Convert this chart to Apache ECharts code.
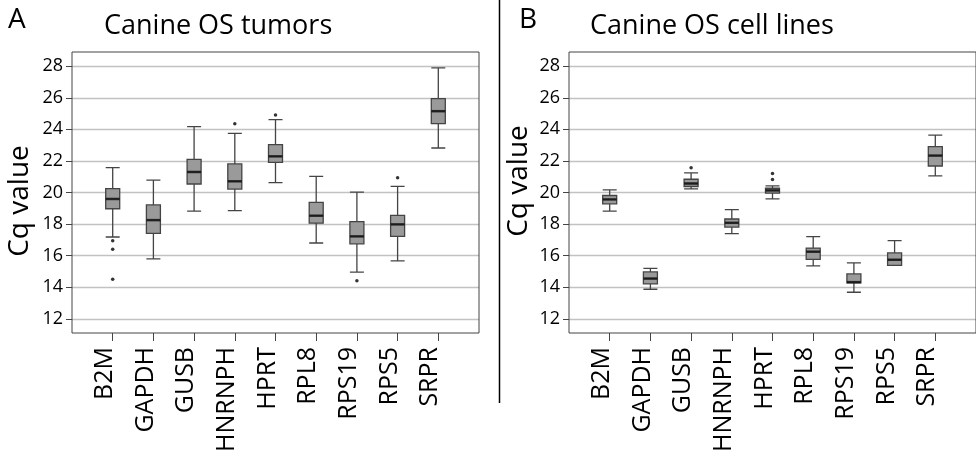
<!DOCTYPE html>
<html><head><meta charset="utf-8">
<script src="https://cdn.jsdelivr.net/npm/echarts@6/dist/echarts.min.js"></script>
<style>html,body{margin:0;padding:0;background:#fff}#c{width:976px;height:461px}</style>
</head><body><div id="c"></div>
<script>
// ---- data ----
const categories = ['B2M','GAPDH','GUSB','HNRNPH','HPRT','RPL8','RPS19','RPS5','SRPR'];
const yTicks = [12,14,16,18,20,22,24,26,28];
// [min, Q1, median, Q3, max]
const tumorBoxes = [
  [17.18, 18.97, 19.59, 20.24, 21.57],
  [15.80, 17.41, 18.25, 19.21, 20.79],
  [18.82, 20.54, 21.30, 22.10, 24.17],
  [18.85, 20.22, 20.71, 21.81, 23.75],
  [20.62, 21.91, 22.29, 23.03, 24.62],
  [16.80, 18.06, 18.53, 19.37, 21.02],
  [14.96, 16.75, 17.22, 18.15, 20.03],
  [15.67, 17.22, 17.98, 18.55, 20.39],
  [22.82, 24.36, 25.15, 25.95, 27.89]
];
const tumorOutliers = [
  ['B2M', 16.94], ['B2M', 16.41], ['B2M', 14.51],
  ['HNRNPH', 24.36], ['HPRT', 24.91], ['RPS19', 14.41], ['RPS5', 20.94]
];
const cellBoxes = [
  [18.82, 19.28, 19.56, 19.81, 20.17],
  [13.87, 14.21, 14.55, 14.97, 15.20],
  [20.23, 20.38, 20.57, 20.84, 21.24],
  [17.39, 17.81, 18.08, 18.32, 18.91],
  [19.60, 19.96, 20.13, 20.27, 20.42],
  [15.35, 15.77, 16.25, 16.48, 17.20],
  [13.68, 14.27, 14.32, 14.84, 15.54],
  [15.39, 15.39, 15.74, 16.17, 16.95],
  [21.05, 21.68, 22.34, 22.91, 23.64]
];
const cellOutliers = [
  ['GUSB', 21.56], ['HPRT', 20.82], ['HPRT', 21.20]
];

// ---- build ----
const FONT = '"Open Sans", sans-serif';
const padded = [''].concat(categories, ['']);
const boxData = boxes => boxes.map((b, i) => [i + 1].concat(b));
const medianData = boxes => boxes.map((b, i) => [i + 1, b[2]]);
const outlierData = list => list.map(o => [categories.indexOf(o[0]) + 1, o[1]]);

function xAxis(gi) {
  return {
    type: 'category', gridIndex: gi, data: padded, boundaryGap: false,
    axisLine: {show: false},
    axisTick: {show: true, length: 8, interval: (i, v) => v !== '', lineStyle: {color: '#444', width: 1}},
    axisLabel: {rotate: 90, interval: 0, margin: 14, fontFamily: FONT, fontSize: 25, color: '#000',
                verticalAlign: 'bottom', lineHeight: 16},
    splitLine: {show: false}
  };
}
function yAxis(gi) {
  return {
    type: 'value', gridIndex: gi, min: 11.1, max: 28.9,
    axisLine: {show: false},
    axisTick: {show: true, length: 6, customValues: yTicks, lineStyle: {color: '#444'}},
    axisLabel: {customValues: yTicks, fontFamily: FONT, fontSize: 18, color: '#000', margin: 9},
    splitLine: {show: false}
  };
}
function seriesFor(gi, boxes, outliers) {
  return [
    {
      type: 'boxplot', xAxisIndex: gi, yAxisIndex: gi,
      data: boxData(boxes), encode: {x: 0, y: [1, 2, 3, 4, 5]},
      boxWidth: [14, 14],
      itemStyle: {color: '#9a9a9a', borderColor: '#444', borderWidth: 1.3},
      emphasis: {disabled: true}, silent: true, z: 3,
      markLine: {
        silent: true, symbol: 'none', label: {show: false}, animation: false,
        lineStyle: {color: '#c2c2c2', type: 'solid', width: 1.3},
        data: yTicks.map(v => ({yAxis: v})), z: 1
      }
    },
    {
      type: 'scatter', xAxisIndex: gi, yAxisIndex: gi, data: medianData(boxes),
      symbol: 'rect', symbolSize: [14, 2.5], itemStyle: {color: '#111'}, silent: true, z: 4
    },
    {
      type: 'scatter', xAxisIndex: gi, yAxisIndex: gi, data: outlierData(outliers),
      symbol: 'circle', symbolSize: 3.5, itemStyle: {color: '#000'}, silent: true, z: 4
    }
  ];
}

const chart = echarts.init(document.getElementById('c'), null, {renderer: 'canvas'});
chart.setOption({
  animation: false,
  backgroundColor: '#fff',
  grid: [
    {left: 72, top: 52, width: 407, height: 281, show: true, borderColor: '#444', borderWidth: 1, z: 5},
    {left: 569, top: 52, width: 408, height: 281, show: true, borderColor: '#444', borderWidth: 1, z: 5}
  ],
  xAxis: [xAxis(0), xAxis(1)],
  yAxis: [yAxis(0), yAxis(1)],
  series: seriesFor(0, tumorBoxes, tumorOutliers).concat(seriesFor(1, cellBoxes, cellOutliers)),
  graphic: [
    {type: 'text', x: 8, y: 20, style: {text: 'A', font: '28px ' + FONT, fill: '#000', verticalAlign: 'middle'}},
    {type: 'text', x: 104, y: 26, style: {text: 'Canine OS tumors', font: '27px ' + FONT, fill: '#000', verticalAlign: 'middle'}},
    {type: 'text', x: 519, y: 20, style: {text: 'B', font: '28px ' + FONT, fill: '#000', verticalAlign: 'middle'}},
    {type: 'text', x: 590, y: 26, style: {text: 'Canine OS cell lines', font: '27px ' + FONT, fill: '#000', verticalAlign: 'middle'}},
    {type: 'text', x: 20, y: 201, rotation: Math.PI / 2, style: {text: 'Cq value', font: '28px ' + FONT, fill: '#000', align: 'center', verticalAlign: 'middle'}},
    {type: 'text', x: 519, y: 181, rotation: Math.PI / 2, style: {text: 'Cq value', font: '28px ' + FONT, fill: '#000', align: 'center', verticalAlign: 'middle'}},
    {type: 'line', shape: {x1: 499.5, y1: 0, x2: 499.5, y2: 403}, style: {stroke: '#000', lineWidth: 1.5}}
  ]
});
</script>
</body></html>
